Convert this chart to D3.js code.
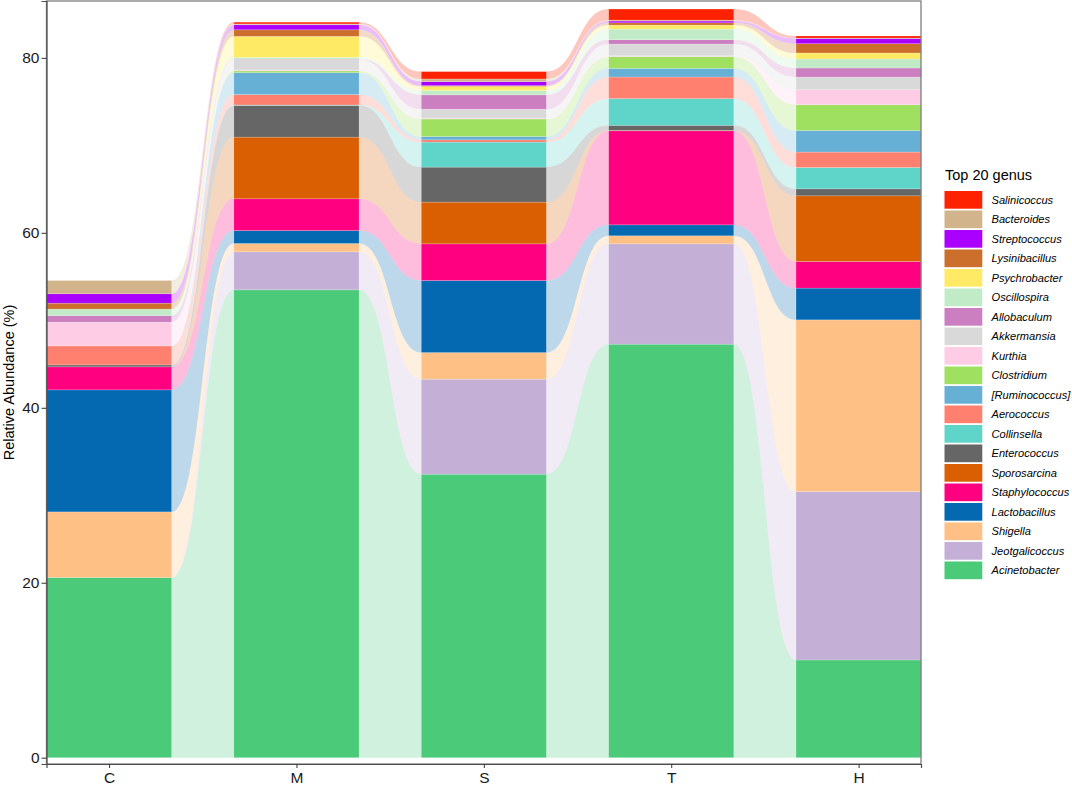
<!DOCTYPE html>
<html>
<head>
<meta charset="utf-8">
<script src="https://cdn.jsdelivr.net/npm/d3@7"></script>
<style>
  body { margin: 0; background: #fff; }
  svg { display: block; font-family: "Liberation Sans", Arial, Helvetica, sans-serif; }
</style>
</head>
<body>
<svg id="chart" width="1072" height="786"></svg>
<script>
// ---------------- DATA ----------------
const categories = ["C", "M", "S", "T", "H"];

// stack order: bottom -> top
const genera = ["Acinetobacter", "Jeotgalicoccus", "Shigella", "Lactobacillus", "Staphylococcus",
  "Sporosarcina", "Enterococcus", "Collinsella", "Aerococcus", "[Ruminococcus]",
  "Clostridium", "Kurthia", "Akkermansia", "Allobaculum", "Oscillospira",
  "Psychrobacter", "Lysinibacillus", "Streptococcus", "Bacteroides", "Salinicoccus"];

const colors = ["#4BCA7A", "#C4B0D6", "#FFC085", "#0569B2", "#FF0080",
  "#D95F02", "#666666", "#5ED5C8", "#FF806F", "#66B0D5",
  "#A0E060", "#FFCCE5", "#D9D9D9", "#CC7FC0", "#C1EBC6",
  "#FFEA66", "#CC6F2C", "#AA00FF", "#D2B48C", "#FF2200"];

// relative abundance (%) per genus, in order C, M, S, T, H
const Acinetobacter  = [20.6, 53.48, 32.41, 47.27, 11.17];
const Jeotgalicoccus = [0.0, 4.35, 10.86, 11.47, 19.25];
const Shigella       = [7.5, 0.95, 3.04, 0.92, 19.63];
const Lactobacillus  = [13.95, 1.48, 8.24, 1.25, 3.63];
const Staphylococcus = [2.63, 3.63, 4.19, 10.75, 3.04];
const Sporosarcina   = [0.0, 7.05, 4.77, 0.05, 7.51];
const Enterococcus   = [0.22, 3.62, 4.0, 0.58, 0.8];
const Collinsella    = [0.0, 0.05, 2.86, 3.05, 2.44];
const Aerococcus     = [2.17, 1.19, 0.26, 2.47, 1.76];
const Ruminococcus   = [0.0, 2.51, 0.38, 0.99, 2.47];
const Clostridium    = [0.0, 0.2, 2.0, 1.34, 2.94];
const Kurthia        = [2.72, 0.1, 0.1, 0.1, 1.72];
const Akkermansia    = [0.0, 1.2, 1.02, 1.34, 1.45];
const Allobaculum    = [0.75, 0.05, 1.64, 0.49, 1.03];
const Oscillospira   = [0.74, 0.2, 0.5, 1.22, 1.03];
const Psychrobacter  = [0.0, 2.4, 0.46, 0.46, 0.69];
const Lysinibacillus = [0.68, 0.75, 0.1, 0.26, 1.06];
const Streptococcus  = [1.07, 0.57, 0.46, 0.2, 0.6];
const Bacteroides    = [1.52, 0.1, 0.3, 0.1, 0.05];
const Salinicoccus   = [0.0, 0.2, 0.84, 1.27, 0.23];

const seriesValues = [Acinetobacter, Jeotgalicoccus, Shigella, Lactobacillus, Staphylococcus,
  Sporosarcina, Enterococcus, Collinsella, Aerococcus, Ruminococcus,
  Clostridium, Kurthia, Akkermansia, Allobaculum, Oscillospira,
  Psychrobacter, Lysinibacillus, Streptococcus, Bacteroides, Salinicoccus];

const yTicks = [0, 20, 40, 60, 80];
const legendTitle = "Top 20 genus";
const yTitle = "Relative Abundance (%)";

// ---------------- LAYOUT ----------------
const svg = d3.select("#chart");
const panel = { left: 46.5, right: 921, top: 1, bottom: 764 };
const halfW = 0.334;

const x = d3.scaleLinear().domain([1 - halfW, categories.length + halfW - 0.001]).range([panel.left, panel.right]);
const y = d3.scaleLinear().domain([-0.72, 86.5]).range([panel.bottom, panel.top]);

// table rows for d3.stack
const table = categories.map((c, i) => {
  const row = { cat: c, idx: i + 1 };
  genera.forEach((g, k) => { row[g] = seriesValues[k][i]; });
  return row;
});
const stacked = d3.stack().keys(genera)(table);

const gFlows = svg.append("g");
const gBars = svg.append("g");

// flows between adjacent bars
stacked.forEach((layer, k) => {
  for (let i = 0; i < categories.length - 1; i++) {
    const a = layer[i], b = layer[i + 1];
    const x0 = x(i + 1 + halfW), x1 = x(i + 2 - halfW), xm = (x0 + x1) / 2;
    const t0 = y(a[1]), t1 = y(b[1]), b0 = y(a[0]), b1 = y(b[0]);
    const p = d3.path();
    p.moveTo(x0, t0);
    p.bezierCurveTo(xm, t0, xm, t1, x1, t1);
    p.lineTo(x1, b1);
    p.bezierCurveTo(xm, b1, xm, b0, x0, b0);
    p.closePath();
    gFlows.append("path")
      .attr("d", p.toString())
      .attr("fill", colors[k])
      .attr("fill-opacity", 0.26);
  }
});

// strata
stacked.forEach((layer, k) => {
  gBars.selectAll(null)
    .data(layer)
    .enter()
    .append("rect")
    .attr("x", d => x(d.data.idx - halfW))
    .attr("width", d => x(d.data.idx + halfW) - x(d.data.idx - halfW))
    .attr("y", d => y(d[1]))
    .attr("height", d => Math.max(0, y(d[0]) - y(d[1])))
    .attr("fill", colors[k])
    .attr("stroke", "#ffffff")
    .attr("stroke-opacity", 0.3)
    .attr("stroke-width", 0.6);
});

// panel border
svg.append("rect")
  .attr("x", panel.left).attr("y", panel.top)
  .attr("width", panel.right - panel.left).attr("height", panel.bottom - panel.top)
  .attr("fill", "none").attr("stroke", "#7f7f7f").attr("stroke-width", 1.3);

// y axis
const yAxis = d3.axisLeft(y).tickValues(yTicks).tickSize(5).tickPadding(2);
const gy = svg.append("g").attr("transform", `translate(${panel.left},0)`).call(yAxis);
gy.select(".domain").attr("stroke", "#4d4d4d").attr("stroke-width", 1.2);
gy.selectAll(".tick line").attr("stroke", "#333");
gy.selectAll(".tick text").attr("font-size", 15.5).attr("fill", "#1a1a1a")
  .attr("font-family", "'Liberation Sans', Arial, sans-serif");

// x axis
const xAxis = d3.axisBottom(x).tickValues(categories.map((c, i) => i + 1))
  .tickFormat((d, i) => categories[i]).tickSize(4).tickPadding(4);
const gx = svg.append("g").attr("transform", `translate(0,${panel.bottom})`).call(xAxis);
gx.select(".domain").attr("stroke", "#4d4d4d").attr("stroke-width", 1.2);
gx.selectAll(".tick line").attr("stroke", "#333");
gx.selectAll(".tick text").attr("font-size", 15.5).attr("fill", "#1a1a1a")
  .attr("font-family", "'Liberation Sans', Arial, sans-serif");

// y title
svg.append("text")
  .attr("transform", `translate(14,${(panel.top + panel.bottom) / 2}) rotate(-90)`)
  .attr("text-anchor", "middle")
  .attr("font-size", 14.5)
  .attr("fill", "#000")
  .text(yTitle);

// legend (top to bottom = reverse stack order)
const lg = svg.append("g");
lg.append("text").attr("x", 945).attr("y", 179.5).attr("font-size", 14.5).attr("fill", "#000").text(legendTitle);
const legendOrder = genera.map((g, k) => k).reverse();
legendOrder.forEach((k, j) => {
  const yy = 191 + j * 19.5;
  lg.append("rect").attr("x", 944.5).attr("y", yy).attr("width", 37.8).attr("height", 17.7).attr("fill", colors[k]);
  lg.append("text").attr("x", 991.5).attr("y", yy + 9).attr("dy", "0.35em")
    .attr("font-size", 11.1).attr("font-style", "italic").attr("fill", "#000").text(genera[k]);
});
</script>
</body>
</html>
